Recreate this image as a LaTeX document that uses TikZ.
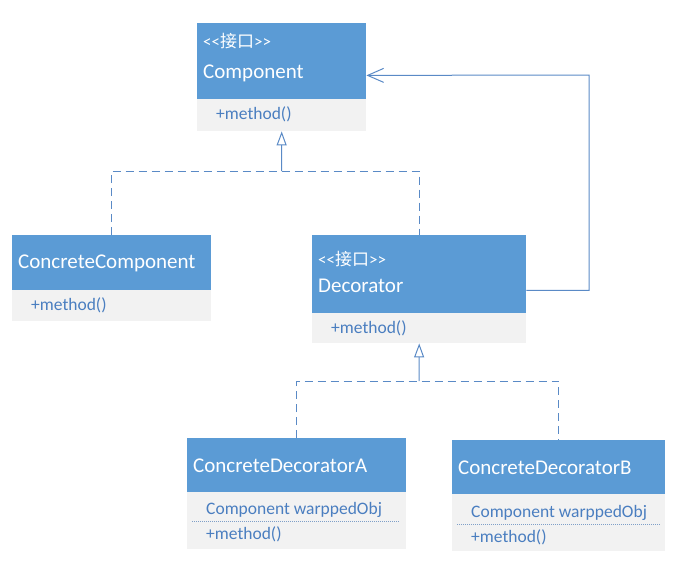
\documentclass[tikz,border=0pt]{standalone}
\usepackage{fontspec}
\newfontfamily\uml{Carlito}
\newfontfamily\cjk{Noto Sans CJK SC}
\usetikzlibrary{arrows.meta}
\definecolor{hdrblue}{HTML}{5B9BD5}
\definecolor{bodygray}{HTML}{F2F2F2}
\definecolor{membertext}{HTML}{4A7EC0}
\definecolor{linkblue}{HTML}{5A8AC6}
\definecolor{sepline}{HTML}{7F9FC8}
\tikzset{
  hdr/.style={fill=hdrblue, draw=none, anchor=north west, inner sep=0pt},
  body/.style={fill=bodygray, draw=none, anchor=north west, inner sep=0pt},
  title/.style={anchor=base west, inner sep=0pt, text=white, font=\uml\fontsize{21}{24}\selectfont},
  stereo/.style={anchor=base west, inner sep=0pt, text=white, font=\uml\fontsize{17}{20}\selectfont},
  member/.style={anchor=base west, inner sep=0pt, text=membertext, font=\uml\fontsize{17.5}{20}\selectfont},
  realize/.style={draw=linkblue, line width=1pt, dash pattern=on 8pt off 5pt},
  realtip/.style={draw=linkblue, line width=1pt, -{Triangle[open, length=14pt, width=10pt, fill=white]}},
  assoc/.style={draw=linkblue, line width=1pt, -{Straight Barb[length=16pt, width=14pt, line width=1pt]}},
  sep/.style={draw=sepline, line width=0.8pt, dash pattern=on 1pt off 1pt}
}
\begin{document}
\begin{tikzpicture}[x=1pt, y=-1pt]
\useasboundingbox (0,0) rectangle (684,568);

% Component interface
\node[hdr, minimum width=169pt, minimum height=76pt] (comph) at (197,23) {};
\node[body, minimum width=169pt, minimum height=32pt] (compb) at (197,99) {};
\node[stereo] (compst) at (203,47) {<<{\cjk 接口}>>};
\node[title] (compt) at (203,78) {Component};
\node[member] (compm) at (216,119) {+method()};

% ConcreteComponent
\node[hdr, minimum width=199pt, minimum height=55pt] (cch) at (12,235) {};
\node[body, minimum width=199pt, minimum height=31pt] (ccb) at (12,290) {};
\node[title] (cct) at (18,268) {ConcreteComponent};
\node[member] (ccm) at (31,310) {+method()};

% Decorator interface
\node[hdr, minimum width=214pt, minimum height=78pt] (dech) at (312,235) {};
\node[body, minimum width=214pt, minimum height=30pt] (decb) at (312,313) {};
\node[stereo] (decst) at (318,265) {<<{\cjk 接口}>>};
\node[title] (dect) at (318,292) {Decorator};
\node[member] (decm) at (331,333) {+method()};

% ConcreteDecoratorA
\node[hdr, minimum width=219pt, minimum height=54pt] (cdah) at (187,438) {};
\node[body, minimum width=219pt, minimum height=57pt] (cdab) at (187,492) {};
\node[title] (cdat) at (193,472) {ConcreteDecoratorA};
\node[member] (cdaf) at (206,514) {Component warppedObj};
\node[member] (cdam) at (206,539) {+method()};
\coordinate (sepa1) at (192,521);
\coordinate (sepa2) at (400,521);
\draw[sep] (sepa1) -- (sepa2);

% ConcreteDecoratorB
\node[hdr, minimum width=213pt, minimum height=54pt] (cdbh) at (452,440) {};
\node[body, minimum width=213pt, minimum height=57pt] (cdbb) at (452,494) {};
\node[title] (cdbt) at (458,474) {ConcreteDecoratorB};
\node[member] (cdbf) at (471,517) {Component warppedObj};
\node[member] (cdbm) at (471,542) {+method()};
\coordinate (sepb1) at (457,524);
\coordinate (sepb2) at (661,524);
\draw[sep] (sepb1) -- (sepb2);

% realization of Component
\coordinate (j1) at (281.5,171);
\draw[realize] (cch.north) |- (j1) -| (dech.north);
\draw[realtip] (j1) -- (compb.south);

% realization of Decorator
\coordinate (j2) at (419,381);
\draw[realize] (cdah.north) |- (j2) -| (cdbh.north);
\draw[realtip] (j2) -- (decb.south);

% Decorator wraps a Component
\coordinate (turn) at (589,75);
\draw[assoc] ([yshift=23pt]dech.south east) -| (turn) -- ([yshift=24pt]comph.south east);
\end{tikzpicture}
\end{document}
